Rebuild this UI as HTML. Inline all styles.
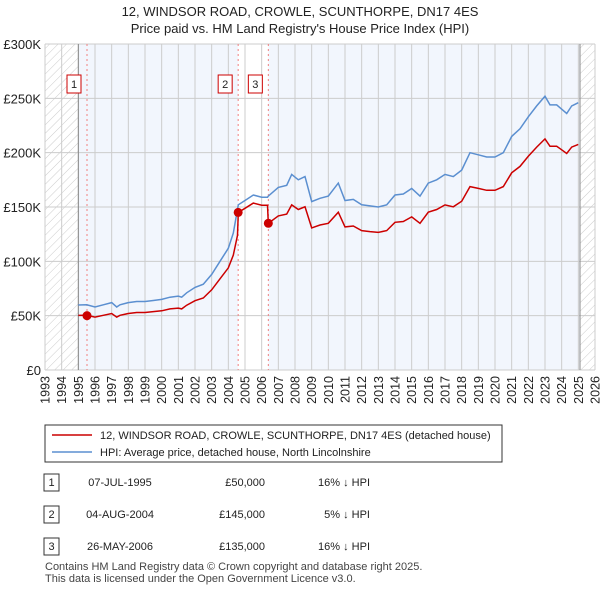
<!DOCTYPE html>
<html><head><meta charset="utf-8"><style>
body{margin:0;background:#fff;font-family:"Liberation Sans","DejaVu Sans",sans-serif;}
#wrap{position:relative;width:600px;height:590px;overflow:hidden}
</style></head><body><div id="wrap">
<svg id="chart" width="600" height="590" xmlns="http://www.w3.org/2000/svg">
<defs><pattern id="hatch" width="6" height="6" patternUnits="userSpaceOnUse" patternTransform="rotate(45)"><line x1="0" y1="0" x2="0" y2="6" stroke="#ccc" stroke-width="1"/></pattern></defs>
<text x="300" y="16" text-anchor="middle" font-size="13" fill="#222">12, WINDSOR ROAD, CROWLE, SCUNTHORPE, DN17 4ES</text>
<text x="300" y="33" text-anchor="middle" font-size="13" fill="#222">Price paid vs. HM Land Registry's House Price Index (HPI)</text>
<g id="plot"></g>
<g>
<rect x="45" y="425" width="457" height="37" fill="#fff" stroke="#333"/>
<line x1="52" y1="435" x2="92" y2="435" stroke="#cc0000" stroke-width="1.5"/>
<text x="100" y="439" font-size="11" fill="#222">12, WINDSOR ROAD, CROWLE, SCUNTHORPE, DN17 4ES (detached house)</text>
<line x1="52" y1="452" x2="92" y2="452" stroke="#5b8fd0" stroke-width="1.5"/>
<text x="100" y="456" font-size="11" fill="#222">HPI: Average price, detached house, North Lincolnshire</text>
</g>
<g font-size="11" fill="#222">
<rect x="44" y="474" width="15" height="17" fill="#fff" stroke="#333"/><text x="51.5" y="486" text-anchor="middle">1</text>
<text x="120" y="486" text-anchor="middle">07-JUL-1995</text>
<text x="265" y="486" text-anchor="end">£50,000</text>
<text x="370" y="486" text-anchor="end">16% ↓ HPI</text>
<rect x="44" y="506" width="15" height="17" fill="#fff" stroke="#333"/><text x="51.5" y="518" text-anchor="middle">2</text>
<text x="120" y="518" text-anchor="middle">04-AUG-2004</text>
<text x="265" y="518" text-anchor="end">£145,000</text>
<text x="370" y="518" text-anchor="end">5% ↓ HPI</text>
<rect x="44" y="538" width="15" height="17" fill="#fff" stroke="#333"/><text x="51.5" y="550" text-anchor="middle">3</text>
<text x="120" y="550" text-anchor="middle">26-MAY-2006</text>
<text x="265" y="550" text-anchor="end">£135,000</text>
<text x="370" y="550" text-anchor="end">16% ↓ HPI</text>
</g>
<text x="45" y="570" font-size="11" fill="#444">Contains HM Land Registry data © Crown copyright and database right 2025.</text>
<text x="45" y="582" font-size="11" fill="#444">This data is licensed under the Open Government Licence v3.0.</text>
</svg></div>
<script>
const years=[1995.0,1995.5,1996,1996.5,1997,1997.3,1997.5,1998,1998.5,1999,1999.5,2000,2000.5,2001,2001.2,2001.5,2002,2002.5,2003,2003.5,2004,2004.3,2004.55,2004.6,2005,2005.5,2006,2006.35,2006.4,2007,2007.5,2007.8,2008.2,2008.6,2009,2009.5,2010,2010.6,2011,2011.5,2012,2012.5,2013,2013.5,2014,2014.5,2015,2015.5,2016,2016.5,2017,2017.5,2018,2018.5,2019,2019.5,2020,2020.5,2021,2021.5,2022,2022.5,2023,2023.3,2023.7,2024,2024.3,2024.6,2025];
const hpi=[59.8,60,58,60,62,58,60,62,63,63,64,65,67,68,67,71,76,79,88,100,112,126,148,152,156,161,159,159,160,168,170,180,175,178,155,158,160,172,156,157,152,151,150,152,161,162,167,160,172,175,180,178,184,200,198,196,196,200,215,222,233,243,252,244,244,240,236,243,246];
const paid=[50.2,50.3,48.7,50.3,52,48.7,50.3,52,52.9,52.9,53.7,54.5,56.2,57,56.2,59.6,63.8,66.3,73.8,83.9,94,105.7,124,145,148.8,153.6,151.7,151.7,135,141.8,143.5,151.9,147.7,150.2,130.8,133.4,135,145.2,131.7,132.5,128.3,127.4,126.6,128.3,135.9,136.7,140.9,135,145.2,147.7,151.9,150.2,155.3,168.8,167.1,165.4,165.4,168.8,181.5,187.4,196.7,205.1,212.7,205.9,205.9,202.6,199.2,205.1,207.6];
const saleYears=[1995.52,2004.59,2006.4];
const salePrices=[50,145,135];
const saleLabels=["1","2","3"];
const yTicks=[0,50,100,150,200,250,300];
const yTickLabels=["£0","£50K","£100K","£150K","£200K","£250K","£300K"];
const xStart=1993,xEnd=2026;
const X=y=>45+(y-xStart)*550/(xEnd-xStart);
const Y=v=>370-v*326/300;
const NS="http://www.w3.org/2000/svg";
const g=document.getElementById('plot');
function mk(t,a){const e=document.createElementNS(NS,t);for(const k in a)e.setAttribute(k,a[k]);g.appendChild(e);return e;}
let e;
e=mk('rect',{x:X(1995),y:Y(300),width:X(2025.1)-X(1995),height:Y(0)-Y(300),fill:'#f2f6fd'});


e=mk('rect',{x:X(saleYears[1]),y:Y(300),width:X(saleYears[2])-X(saleYears[1]),height:Y(0)-Y(300),fill:'#fff'});


e=mk('rect',{x:X(1993),y:Y(300),width:X(1995)-X(1993),height:Y(0)-Y(300),fill:'url(#hatch)'});


e=mk('rect',{x:X(2025.1),y:Y(300),width:X(2026)-X(2025.1),height:Y(0)-Y(300),fill:'url(#hatch)'});


for(let yr=xStart;yr<=xEnd;yr++){
 e=mk('line',{x1:X(yr),x2:X(yr),y1:Y(300),y2:Y(0),stroke:'#ccc','stroke-width':1});
 
 
 const tx=X(yr)+4.5, ty=376;
 e=mk('text',{x:tx,y:ty,'text-anchor':'end','font-size':12.5,fill:'#222',transform:'rotate(-90 '+tx+' '+ty+')'});e.textContent=yr;
 
 
}
yTicks.forEach((v,i)=>{
 e=mk('line',{x1:X(xStart),x2:X(xEnd),y1:Y(v),y2:Y(v),stroke:'#ccc','stroke-width':1});
 
 
 e=mk('text',{x:41,y:Y(v)+5,'text-anchor':'end','font-size':13,fill:'#222'});e.textContent=yTickLabels[i];
 
 
});
e=mk('line',{x1:X(1995),x2:X(1995),y1:Y(300),y2:Y(0),stroke:'#888'});


e=mk('line',{x1:X(2025.1),x2:X(2025.1),y1:Y(300),y2:Y(0),stroke:'#888'});


saleYears.forEach((s,i)=>{
 e=mk('line',{x1:X(s),x2:X(s),y1:Y(300),y2:Y(0),stroke:'#f08080','stroke-dasharray':'2,3'});
 
 
});
e=mk('path',{d:years.map((y,i)=>(i?'L':'M')+X(y).toFixed(1)+','+Y(hpi[i]).toFixed(1)).join(''),fill:'none',stroke:'#5b8fd0','stroke-width':1.5});


e=mk('path',{d:years.map((y,i)=>(i?'L':'M')+X(y).toFixed(1)+','+Y(paid[i]).toFixed(1)).join(''),fill:'none',stroke:'#cc0000','stroke-width':1.5});


saleYears.forEach((s,i)=>{
 e=mk('circle',{cx:X(s),cy:Y(salePrices[i]),r:4.5,fill:'#cc0000'});
 
 
 e=mk('rect',{x:X(s)-20,y:75,width:14,height:18,fill:'#fff',stroke:'#cc0000'});
 
 
 e=mk('text',{x:X(s)-13,y:88,'text-anchor':'middle','font-size':11,fill:'#222'});e.textContent=saleLabels[i];
 
 
});
</script></body></html>
